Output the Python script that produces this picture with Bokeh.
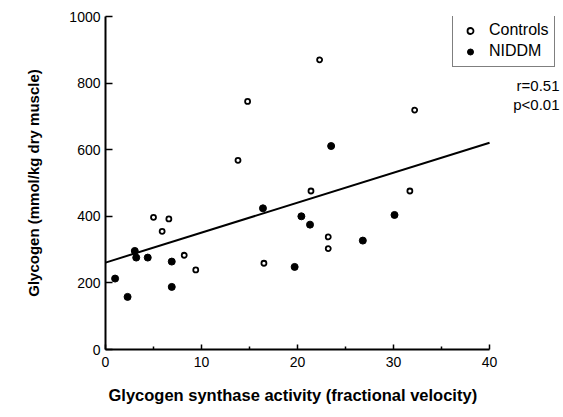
from bokeh.plotting import figure
from bokeh.models import Range1d, Legend, LegendItem, Label, FixedTicker, Title
from bokeh.embed import file_html
from bokeh.resources import INLINE

# Controls (open circles)
ctrl_x = [14.8, 13.8, 22.3, 32.2, 21.4, 31.7, 23.2, 23.2, 5.0, 6.6, 5.9, 8.2, 9.4, 16.5]
ctrl_y = [745, 568, 870, 719, 476, 476, 338, 303, 397, 392, 355, 283, 239, 259]

# NIDDM (filled circles)
niddm_x = [23.5, 16.4, 1.0, 2.3, 3.05, 3.2, 4.4, 6.9, 6.9, 19.7, 20.4, 21.3, 30.1, 26.8]
niddm_y = [611, 424, 213, 158, 296, 276, 276, 264, 188, 248, 400, 375, 404, 327]

# Regression line end points
fit_x = [0, 40]
fit_y = [261, 621]

x_ticks = [0, 10, 20, 30, 40]
x_minor_ticks = [5, 15, 25, 35]
y_ticks = [0, 200, 400, 600, 800, 1000]

x_label = "Glycogen synthase activity (fractional velocity)"
y_label = "Glycogen (mmol/kg dry muscle)"
stat_r = "r=0.51"
stat_p = "p<0.01"
series_names = ["Controls", "NIDDM"]

FONT = "Liberation Sans"

# axis spans 0..40; the frame continues to the right edge so that the
# legend and statistics (which sit right of the axis end) are not clipped
X_AXIS_END = 40
X_FRAME_END = 47.7

p = figure(width=563, height=417, output_backend="svg", toolbar_location=None,
           x_range=Range1d(0, X_FRAME_END), y_range=Range1d(0, 1000),
           min_border_left=105, min_border_right=0, min_border_top=16, min_border_bottom=68)

p.xgrid.visible = False
p.ygrid.visible = False
p.outline_line_color = None
p.background_fill_color = "white"
p.border_fill_color = "white"

# axes
for ax in (p.xaxis[0], p.yaxis[0]):
    ax.axis_line_color = "black"
    ax.axis_line_width = 2
    ax.major_tick_line_color = "black"
    ax.major_tick_line_width = 1.5
    ax.minor_tick_line_color = "black"
    ax.minor_tick_line_width = 1.5
    ax.major_tick_out = 0
    ax.minor_tick_out = 0
    ax.major_label_text_font = FONT
    ax.major_label_text_font_size = "14px"
    ax.major_label_text_color = "black"
    ax.axis_label_text_font = FONT
    ax.axis_label_text_font_style = "bold"
    ax.axis_label_text_color = "black"

p.xaxis[0].bounds = (0, X_AXIS_END)
p.xaxis[0].ticker = FixedTicker(ticks=x_ticks, minor_ticks=x_minor_ticks)
p.xaxis[0].major_tick_in = 5
p.xaxis[0].minor_tick_in = 3
p.xaxis[0].major_label_standoff = 7

p.yaxis[0].ticker = FixedTicker(ticks=y_ticks, minor_ticks=[])
p.yaxis[0].major_tick_in = 7
p.yaxis[0].major_label_standoff = 5
p.yaxis[0].axis_label = y_label
p.yaxis[0].axis_label_text_font_size = "15px"
p.yaxis[0].axis_label_standoff = 24

# x-axis title, centred under the 0..40 axis span (placed as a below-panel title)
p.add_layout(Title(text=x_label, align="left", offset=3, standoff=28,
                   vertical_align="bottom", text_font=FONT, text_font_size="16.5px",
                   text_font_style="bold", text_color="black"), "below")

# regression line
p.line(fit_x, fit_y, line_color="black", line_width=2)

# points
r_ctrl = p.scatter(ctrl_x, ctrl_y, marker="circle", size=5, fill_color="white",
                   line_color="black", line_width=1.8)
r_niddm = p.scatter(niddm_x, niddm_y, marker="circle", size=7, fill_color="black",
                    line_color="black", line_width=1)

legend = Legend(items=[LegendItem(label=series_names[0], renderers=[r_ctrl]),
                       LegendItem(label=series_names[1], renderers=[r_niddm])],
                location=(347, 282), padding=5, spacing=1, margin=0,
                glyph_width=24, glyph_height=15, label_height=20,
                label_standoff=7, label_text_font=FONT, label_text_font_size="16px",
                label_text_color="black",
                border_line_color="black", border_line_width=1.5,
                background_fill_color="white", background_fill_alpha=1)
p.add_layout(legend)

p.add_layout(Label(x=454, y=264, x_units="screen", y_units="screen", text=stat_r,
                   text_align="right", text_baseline="alphabetic",
                   text_font=FONT, text_font_size="15px", text_color="black"))
p.add_layout(Label(x=454, y=245, x_units="screen", y_units="screen", text=stat_p,
                   text_align="right", text_baseline="alphabetic",
                   text_font=FONT, text_font_size="15px", text_color="black"))

open("out.html", "w").write(file_html(p, INLINE))
